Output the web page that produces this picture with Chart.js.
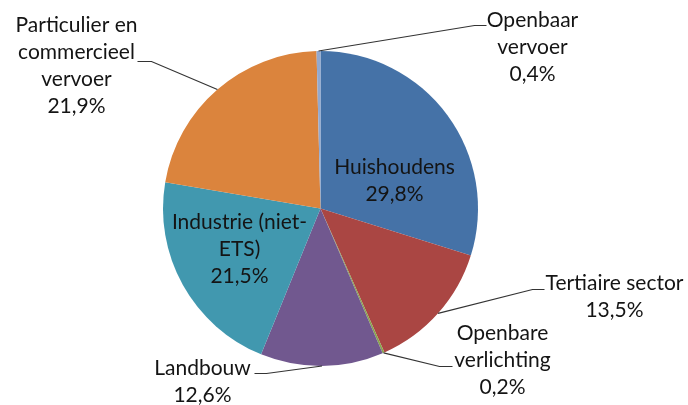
<!DOCTYPE html>
<html>
<head>
<meta charset="utf-8">
<script src="https://cdn.jsdelivr.net/npm/chart.js@4"></script>
<style>
html,body{margin:0;padding:0;background:#fff;}
#wrap{width:688px;height:405px;position:relative;}
</style>
</head>
<body>
<div id="wrap"><canvas id="c" width="688" height="405"></canvas></div>
<script>
// Data
const categories = [
  ["Huishoudens"],
  ["Tertiaire sector"],
  ["Openbare", "verlichting"],
  ["Landbouw"],
  ["Industrie (niet-", "ETS)"],
  ["Particulier en", "commercieel", "vervoer"],
  ["Openbaar", "vervoer"]
];
const shares = [29.8, 13.5, 0.2, 12.6, 21.5, 21.9, 0.4];
const sliceColors = ["#4572A7", "#AA4643", "#89A54E", "#71588F", "#4198AF", "#DB843D", "#93A9CF"];

// Label layout (offsets relative to pie centre); inside labels have no leader
const labelLayout = [
  {inside: true, tx: 74, ty: -41},
  {tx: 294, ty: 75, ex: 212, ey: 81, hx: 224},
  {tx: 182, ty: 125, ex: 119, ey: 158, hx: 132},
  {tx: -118, ty: 160, ex: -54, ey: 165, hx: -66},
  {inside: true, tx: -81, ty: 14},
  {tx: -244, ty: -183, ex: -169, ey: -147, hx: -183},
  {tx: 212, ty: -188, ex: 154, ey: -183, hx: 166}
];

const fmt = v => v.toFixed(1).replace('.', ',') + '%';

const labelPlugin = {
  id: 'pieLabels',
  afterDatasetsDraw(chart) {
    const ctx = chart.ctx;
    const meta = chart.getDatasetMeta(0);
    const lh = 27;
    ctx.save();
    ctx.font = '21px Lato, "Open Sans", sans-serif';
    ctx.textAlign = 'center';
    ctx.textBaseline = 'middle';
    meta.data.forEach((arc, i) => {
      const L = labelLayout[i];
      const cx = arc.x, cy = arc.y;
      const mid = (arc.startAngle + arc.endAngle) / 2;
      const r = arc.outerRadius;
      if (!L.inside) {
        const sx = cx + r * Math.cos(mid), sy = cy + r * Math.sin(mid);
        ctx.strokeStyle = '#333333';
        ctx.lineWidth = 1.2;
        ctx.beginPath();
        ctx.moveTo(sx, sy);
        ctx.lineTo(cx + L.ex, cy + L.ey);
        ctx.lineTo(cx + L.hx, cy + L.ey);
        ctx.stroke();
      }
      const lines = categories[i].concat([fmt(shares[i])]);
      ctx.fillStyle = '#141414';
      lines.forEach((t, k) => {
        ctx.fillText(t, cx + L.tx, cy + L.ty + k * lh);
      });
    });
    ctx.restore();
  }
};

new Chart(document.getElementById('c'), {
  type: 'pie',
  data: {
    labels: categories.map(c => c.join(' ')),
    datasets: [{
      data: shares,
      backgroundColor: sliceColors,
      borderWidth: 0
    }]
  },
  options: {
    responsive: false,
    animation: false,
    rotation: 0,
    layout: {padding: {left: 163, right: 210, top: 51, bottom: 39}},
    plugins: {legend: {display: false}, tooltip: {enabled: false}}
  },
  plugins: [labelPlugin]
});
</script>
</body>
</html>
